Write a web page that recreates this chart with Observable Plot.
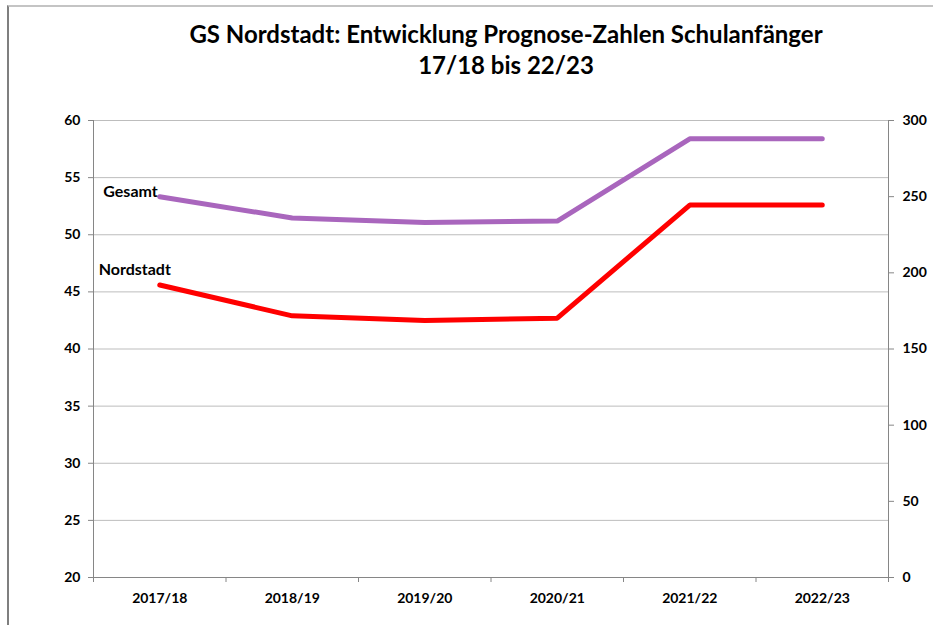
<!DOCTYPE html>
<html>
<head>
<meta charset="utf-8">
<script src="https://cdn.jsdelivr.net/npm/d3@7"></script>
<script src="https://cdn.jsdelivr.net/npm/@observablehq/plot@0.6"></script>
<style>
  body { margin: 0; background: #fff; }
  #wrap { position: relative; width: 933px; height: 625px; overflow: hidden; font-family: Lato, "Open Sans", sans-serif; }
  #frame { position: absolute; left: 7px; top: 5px; right: 0; bottom: 0; border-top: 2px solid #c4c4c4; border-left: 2px solid #7f7f7f; pointer-events: none; }
  #title { height: 90px; box-sizing: border-box; padding-top: 18px; padding-left: 79px; text-align: center; font-weight: bold; font-size: 24px; line-height: 31px; color: #000; }
  svg { display: block; }
</style>
</head>
<body>
<div id="wrap">
  <div id="frame"></div>
  <div id="title">GS Nordstadt: Entwicklung Prognose-Zahlen Schulanfänger<br>17/18 bis 22/23</div>
  <div id="chart"></div>
</div>
<script>
const categories = ["2017/18", "2018/19", "2019/20", "2020/21", "2021/22", "2022/23"];
const nordstadt = [45.6, 42.9, 42.5, 42.7, 52.6, 52.6];   // left axis
const gesamt = [250, 236, 233, 234, 288, 288];            // right axis
const leftTicks = [20, 25, 30, 35, 40, 45, 50, 55, 60];
const rightTicks = [0, 50, 100, 150, 200, 250, 300];

const leftDomain = [20, 60];
const rightDomain = [0, 300];
const toLeft = v => leftDomain[0] + (v - rightDomain[0]) * (leftDomain[1] - leftDomain[0]) / (rightDomain[1] - rightDomain[0]);
const fromLeft = v => rightDomain[0] + (v - leftDomain[0]) * (rightDomain[1] - rightDomain[0]) / (leftDomain[1] - leftDomain[0]);

const idx = categories.map((c, i) => i);
const boundaries = categories.map((c, i) => i - 0.5).concat([categories.length - 0.5]);
const nordData = categories.map((c, i) => ({i, v: nordstadt[i]}));
const gesData = categories.map((c, i) => ({i, v: toLeft(gesamt[i])}));

const chart = Plot.plot({
  width: 933,
  height: 535,
  marginLeft: 93,
  marginRight: 45,
  marginTop: 30,
  marginBottom: 48,
  style: {fontFamily: "Lato, 'Open Sans', sans-serif", color: "#000", background: "#fff"},
  x: {domain: [-0.5, categories.length - 0.5], axis: null},
  y: {domain: leftDomain, axis: null},
  marks: [
    Plot.ruleY(leftTicks.filter(t => t > 20), {stroke: "#bdbdbd", strokeWidth: 1}),
    Plot.ruleX([-0.5, categories.length - 0.5], {stroke: "#868686", strokeWidth: 1}),
    Plot.ruleY([20], {stroke: "#868686", strokeWidth: 1}),
    Plot.axisY(leftTicks, {anchor: "left", label: null, tickSize: 5, tickPadding: 8, stroke: "#868686", fontSize: 14, fontWeight: "bold", fill: "#000"}),
    Plot.axisY(rightTicks.map(toLeft), {anchor: "right", label: null, tickSize: 5, tickPadding: 9, stroke: "#868686", fontSize: 14, fontWeight: "bold", fill: "#000", tickFormat: d => String(Math.round(fromLeft(d)))}),
    Plot.axisX(boundaries, {anchor: "bottom", label: null, tickSize: 5, stroke: "#868686", tickFormat: () => ""}),
    Plot.axisX(idx, {anchor: "bottom", label: null, tickSize: 0, tickPadding: 16, fontSize: 14, fontWeight: "bold", fill: "#000", tickFormat: i => categories[i]}),
    Plot.line(gesData, {x: "i", y: "v", stroke: "#a966bd", strokeWidth: 5, strokeLinecap: "round", strokeLinejoin: "miter"}),
    Plot.line(nordData, {x: "i", y: "v", stroke: "#ff0000", strokeWidth: 5, strokeLinecap: "round", strokeLinejoin: "miter"}),
    Plot.text([gesData[0]], {x: "i", y: "v", text: () => "Gesamt", textAnchor: "end", lineAnchor: "bottom", dx: -2, dy: 0, fontSize: 16, fontWeight: "bold", fill: "#000"}),
    Plot.text([nordData[0]], {x: "i", y: "v", text: () => "Nordstadt", textAnchor: "middle", lineAnchor: "middle", dx: -25, dy: -15, fontSize: 16, fontWeight: "bold", fill: "#000"})
  ]
});
document.getElementById("chart").appendChild(chart);
</script>
</body>
</html>
